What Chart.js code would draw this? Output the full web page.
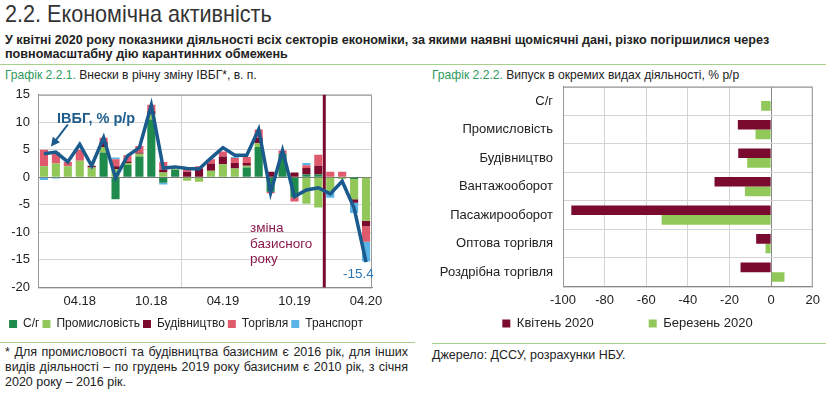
<!DOCTYPE html>
<html>
<head>
<meta charset="utf-8">
<script src="https://cdn.jsdelivr.net/npm/chart.js@4.4.1/dist/chart.umd.min.js"></script>
<style>
  body { margin: 0; width: 826px; height: 394px; background: #fff; position: relative; overflow: hidden;
         font-family: "Liberation Sans", Arial, sans-serif; color: #222; }
  .abs { position: absolute; white-space: nowrap; transform-origin: 0 0; }
  .title { left: 5px; top: 0px; font-size: 24px; color: #333; transform: scaleX(0.9); }
  .lead { left: 5px; font-size: 13.5px; font-weight: bold; color: #222; transform: scaleX(0.935); }
  .sep { position: absolute; height: 0; border-top: 1.5px solid #a8d08d; }
  .cap { top: 67px; font-size: 13px; color: #222; transform: scaleX(0.93); }
  .cap span { color: #2e9a5c; }
  .note { left: 5px; width: 403px; font-size: 12.5px; text-align: justify; text-align-last: justify; }
  .chartbox { position: absolute; }
  .ann { position: absolute; white-space: nowrap; }
</style>
</head>
<body>
<div class="abs title">2.2. Економічна активність</div>
<div class="abs lead" style="top:32px">У квітні 2020 року показники діяльності всіх секторів економіки, за якими наявні щомісячні дані, різко погіршилися через</div>
<div class="abs lead" style="top:46px">повномасштабну дію карантинних обмежень</div>
<div class="sep" style="left:0;top:64px;width:826px"></div>
<div class="abs cap" style="left:5px"><span>Графік 2.2.1.</span> Внески в річну зміну ІВБГ*, в. п.</div>
<div class="abs cap" style="left:432px"><span>Графік 2.2.2.</span> Випуск в окремих видах діяльності, % р/р</div>

<div class="chartbox" style="left:0;top:79px;width:420px;height:261px"><canvas id="left"></canvas></div>
<div class="chartbox" style="left:420px;top:69px;width:406px;height:271px"><canvas id="right"></canvas></div>

<div class="ann" style="left:57px;top:110px;font-size:14.5px;font-weight:bold;color:#1f5d8c">ІВБГ, % р/р</div>
<div class="ann" style="left:250px;top:220px;font-size:13.5px;line-height:15.5px;color:#8b1a4a">зміна<br>базисного<br>року</div>
<div class="ann" style="left:343px;top:266px;font-size:13.5px;color:#2a74b0">-15.4</div>

<div class="sep" style="left:0;top:342px;width:415px"></div>
<div class="sep" style="left:432px;top:343px;width:394px"></div>
<div class="abs note" style="top:345px">* Для промисловості та будівництва базисним є 2016 рік, для інших</div>
<div class="abs note" style="top:360px">видів діяльності – по грудень 2019 року базисним є 2010 рік, з січня</div>
<div class="abs note" style="top:375px;text-align-last:left">2020 року – 2016 рік.</div>
<div class="abs" style="left:432px;top:348px;font-size:12.5px">Джерело: ДССУ, розрахунки НБУ.</div>

<script>
// Графік 2.2.1 — внески в річну зміну ІВБГ, в. п.
const months = ['01.18', '02.18', '03.18', '04.18', '05.18', '06.18', '07.18', '08.18', '09.18', '10.18', '11.18', '12.18',
                '01.19', '02.19', '03.19', '04.19', '05.19', '06.19', '07.19', '08.19', '09.19', '10.19', '11.19', '12.19',
                '01.20', '02.20', '03.20', '04.20'];
const agri      = [0, 0, 0, 0, 0, 4.5, -4.0, 2.3, 3.8, 10.5, -1.0, 1.4, 0, 0, 0, 0, 0, 1.8, 5.5, -2.6, 4.3, -3.6, 0.5, 0.5, 0, 0, -0.3, 0];
const industry  = [2.0, 2.5, 2.0, 3.0, 1.8, 1.0, 1.5, 0.3, 0.5, 1.0, 0.9, 0.2, -0.6, -0.8, 1.2, 2.4, 1.6, 0.3, 0.7, 0, 0, 0, -4.8, -5.5, -2.6, -0.3, -3.7, -7.9];
const construct = [0, 0, 0, 0, 0.3, 0.9, 0.5, 0.3, 0.2, 0.5, 0.5, 0, 1.0, 1.5, 1.3, 1.4, 1.0, 0.5, 1.0, 1.0, 0, 0.9, 1.2, 1.6, 0, 0, -0.6, -1.0];
const trade     = [3.0, 2.0, 0.8, 2.0, 0, 0.8, 1.3, 1.1, 1.2, 1.2, 1.4, 0, 0.6, 0.5, 0.8, 0.9, 0.9, 1.1, 1.5, -0.3, 0.6, -0.8, 0.5, 2.0, 1.0, 1.0, 0, -2.8];
const transport = [-0.5, -0.2, 0, 0, 0, 0, 0.3, 0, 0, 0, -0.3, 0, 0, 0, 0, 0, 0.2, 0, 0, 0, 0, 0, 0.4, 0, -1.1, 0, -1.9, -3.6];
const ivbg      = [4.3, 4.6, 2.8, 6.0, 2.1, 7.2, -0.1, 3.9, 5.4, 13.1, 1.7, 1.9, 1.6, 1.5, 3.5, 5.4, 4.0, 4.0, 8.7, -2.8, 4.9, -3.5, -2.3, -1.9, -3.0, -0.7, -5.6, -15.4];

// Графік 2.2.2 — випуск в окремих видах діяльності, % р/р
const sectors = ['С/г', 'Промисловість', 'Будівництво', 'Вантажооборот', 'Пасажирооборот', 'Оптова торгівля', 'Роздрібна торгівля'];
const april2020 = [null, -16.0, -15.8, -27.2, -96.0, -7.2, -14.7];
const march2020 = [-4.8, -7.5, -11.5, -12.6, -52.6, -2.7, 6.4];

Chart.defaults.font.family = '"Liberation Sans", Arial, sans-serif';
Chart.defaults.font.size = 13;
Chart.defaults.color = '#222';
Chart.defaults.animation = false;
Chart.defaults.plugins.tooltip.enabled = false;

// рамка навколо області побудови
const frame = {
  id: 'frame',
  beforeDatasetsDraw(chart) {
    const a = chart.chartArea, c = chart.ctx;
    c.save();
    c.strokeStyle = '#999';
    c.lineWidth = 1;
    c.strokeRect(a.left + 0.5, a.top + 0.5, a.right - a.left - 1, a.bottom - a.top);
    c.restore();
  }
};

// вертикальна лінія зміни базисного року + стрілка до підпису ІВБГ
const baseYear = {
  id: 'baseYear',
  beforeDatasetsDraw(chart) {
    const x = chart.scales.x, a = chart.chartArea, c = chart.ctx;
    const px = (x.getPixelForValue(23) + x.getPixelForValue(24)) / 2;
    c.save();
    c.strokeStyle = '#7a0a2e';
    c.lineWidth = 3;
    c.beginPath();
    c.moveTo(px, a.top);
    c.lineTo(px, a.bottom);
    c.stroke();
    c.restore();
  },
  afterDatasetsDraw(chart) {
    const x = chart.scales.x, y = chart.scales.y, c = chart.ctx;
    const x0 = x.getPixelForValue(2), y0 = y.getPixelForValue(9.6);
    const x1 = (x.getPixelForValue(0) + x.getPixelForValue(1)) / 2 + 1, y1 = y.getPixelForValue(5.6);
    const ang = Math.atan2(y1 - y0, x1 - x0);
    c.save();
    c.strokeStyle = '#1a5a8c';
    c.fillStyle = '#1a5a8c';
    c.lineWidth = 2;
    c.beginPath();
    c.moveTo(x0, y0);
    c.lineTo(x1 - 6 * Math.cos(ang), y1 - 6 * Math.sin(ang));
    c.stroke();
    c.beginPath();
    c.moveTo(x1, y1);
    c.lineTo(x1 - 9 * Math.cos(ang) + 4.5 * Math.sin(ang), y1 - 9 * Math.sin(ang) - 4.5 * Math.cos(ang));
    c.lineTo(x1 - 9 * Math.cos(ang) - 4.5 * Math.sin(ang), y1 - 9 * Math.sin(ang) + 4.5 * Math.cos(ang));
    c.closePath();
    c.fill();
    c.restore();
  }
};

function barSet(label, data, color) {
  return { type: 'bar', label: label, data: data, backgroundColor: color, order: 1,
           categoryPercentage: 0.68, barPercentage: 1.0 };
}

new Chart(document.getElementById('left'), {
  data: {
    labels: months,
    datasets: [
      { type: 'line', label: 'ІВБГ', data: ivbg, borderColor: '#1a5a8c', borderWidth: 3.5,
        pointRadius: 0, tension: 0, order: 0 },
      barSet('С/г', agri, '#1e8a4c'),
      barSet('Промисловість', industry, '#92c85a'),
      barSet('Будівництво', construct, '#7a0a2e'),
      barSet('Торгівля', trade, '#e05a6e'),
      barSet('Транспорт', transport, '#5ab4e6')
    ]
  },
  options: {
    responsive: true,
    maintainAspectRatio: false,
    layout: { padding: { top: 1, right: 48, left: 0, bottom: 0 } },
    scales: {
      x: {
        stacked: true,
        grid: { offset: true, drawTicks: false,
                color: ctx => ctx.index === 12 ? '#d4d4d4' : 'rgba(0,0,0,0)' },
        border: { color: '#777' },
        ticks: { autoSkip: false, maxRotation: 0, padding: 6,
                 callback: (v, i) => (months[i].startsWith('04') || months[i].startsWith('10')) ? months[i] : '' }
      },
      y: {
        stacked: true,
        min: -20, max: 15,
        ticks: { stepSize: 5, padding: 8 },
        grid: { drawTicks: false, color: ctx => ctx.tick && ctx.tick.value === 0 ? '#777' : '#d4d4d4' },
        border: { color: '#777' },
        afterFit: s => { s.width = 38; }
      }
    },
    plugins: {
      legend: {
        position: 'bottom',
        labels: { boxWidth: 8, boxHeight: 8, padding: 3, font: { size: 12 },
                  filter: item => item.text !== 'ІВБГ' }
      }
    }
  },
  plugins: [frame, baseYear]
});

new Chart(document.getElementById('right'), {
  type: 'bar',
  data: {
    labels: sectors,
    datasets: [
      { label: 'Квітень 2020', data: april2020, backgroundColor: '#7a0a2e', categoryPercentage: 0.68, barPercentage: 1.0 },
      { label: 'Березень 2020', data: march2020, backgroundColor: '#92c85a', categoryPercentage: 0.68, barPercentage: 1.0 }
    ]
  },
  options: {
    indexAxis: 'y',
    responsive: true,
    maintainAspectRatio: false,
    layout: { padding: { top: 1, right: 11, left: 20, bottom: 0 } },
    scales: {
      x: {
        min: -100, max: 20,
        ticks: { stepSize: 20, padding: 6 },
        grid: { drawTicks: false, color: ctx => ctx.tick && ctx.tick.value === 0 ? '#888' : '#d4d4d4' },
        border: { color: '#777' }
      },
      y: {
        ticks: { padding: 10, autoSkip: false },
        grid: { drawTicks: false, color: '#d4d4d4' },
        border: { color: '#777' },
        afterFit: s => { s.width = 123; }
      }
    },
    plugins: {
      legend: {
        position: 'bottom',
        labels: {
          boxWidth: 8, boxHeight: 8, padding: 3,
          // ширший проміжок між елементами легенди, як в оригіналі
          generateLabels: chart => Chart.defaults.plugins.legend.labels.generateLabels(chart)
            .map((it, i) => i === 0 ? Object.assign(it, { text: it.text + '\u2003\u2003\u2003\u2003' }) : it)
        }
      }
    }
  },
  plugins: [frame]
});
</script>
</body>
</html>
